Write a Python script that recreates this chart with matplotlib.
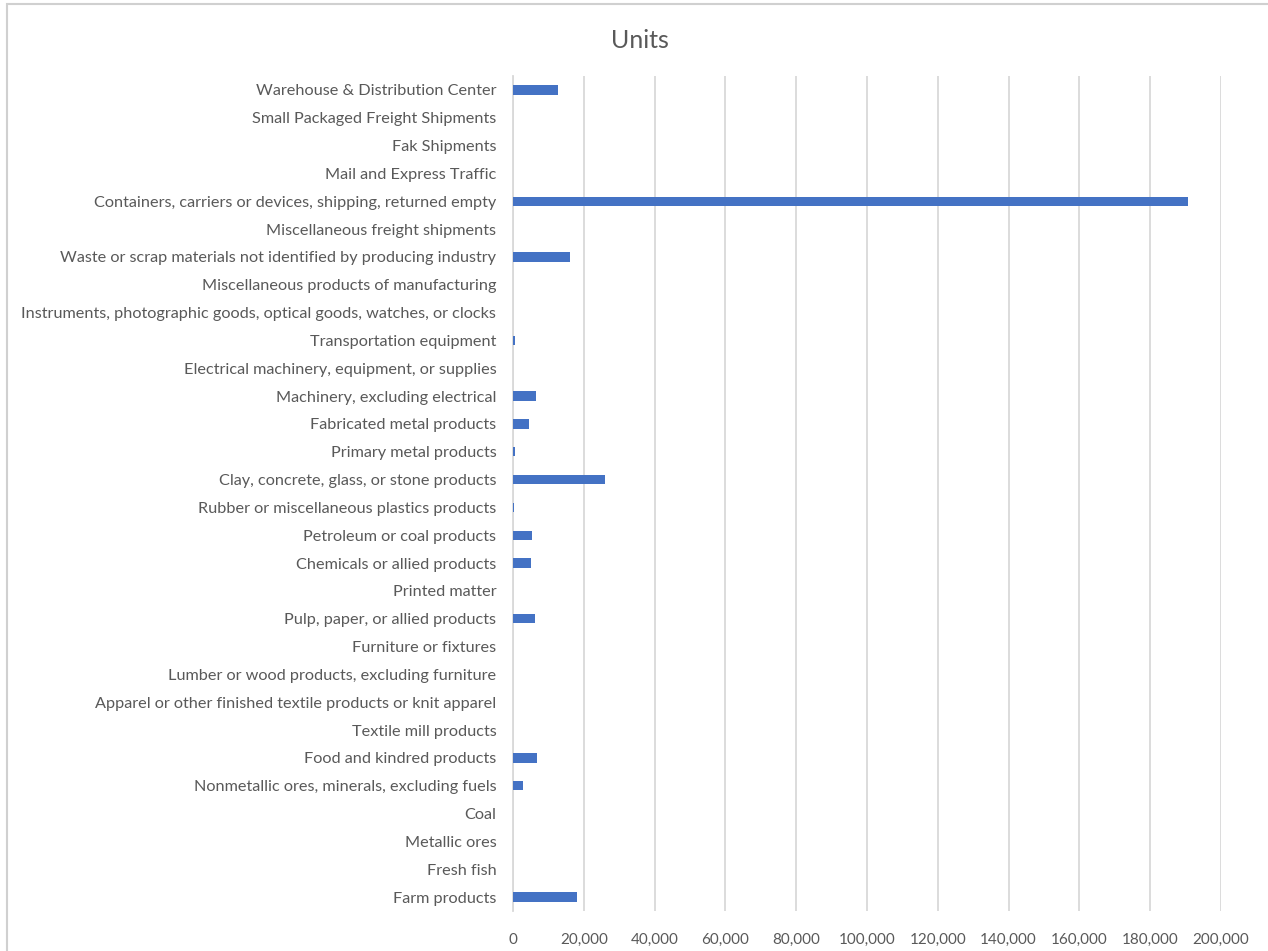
import matplotlib.pyplot as plt
from matplotlib.patches import Rectangle
from matplotlib.ticker import FuncFormatter

categories = [
    "Farm products",
    "Fresh fish",
    "Metallic ores",
    "Coal",
    "Nonmetallic ores, minerals, excluding fuels",
    "Food and kindred products",
    "Textile mill products",
    "Apparel or other finished textile products or knit apparel",
    "Lumber or wood products, excluding furniture",
    "Furniture or fixtures",
    "Pulp, paper, or allied products",
    "Printed matter",
    "Chemicals or allied products",
    "Petroleum or coal products",
    "Rubber or miscellaneous plastics products",
    "Clay, concrete, glass, or stone products",
    "Primary metal products",
    "Fabricated metal products",
    "Machinery, excluding electrical",
    "Electrical machinery, equipment, or supplies",
    "Transportation equipment",
    "Instruments, photographic goods, optical goods, watches, or clocks",
    "Miscellaneous products of manufacturing",
    "Waste or scrap materials not identified by producing industry",
    "Miscellaneous freight shipments",
    "Containers, carriers or devices, shipping, returned empty",
    "Mail and Express Traffic",
    "Fak Shipments",
    "Small Packaged Freight Shipments",
    "Warehouse & Distribution Center",
]
units = [
    18000, 0, 0, 0, 2800, 6900, 0, 0, 0, 0,
    6100, 0, 5200, 5400, 300, 25900, 700, 4500, 6400, 0,
    500, 0, 0, 16200, 0, 190600, 0, 0, 0, 12800,
]

W, H = 1268, 951
fig = plt.figure(figsize=(W / 100, H / 100), dpi=100)
plt.rcParams["font.family"] = ["Lato", "DejaVu Sans"]
txt = "#595959"

# outer chart frame (Excel style)
fig.patches.append(Rectangle((7 / W, -0.1), 1.2, 1 - 4 / H + 0.1, transform=fig.transFigure,
                             fill=False, edgecolor="#D0D0D0", linewidth=1.5))

ax = fig.add_axes([513 / W, 1 - 911 / H, (1221 - 513) / W, (911 - 76) / H])
ax.barh(range(len(categories)), units, height=0.34, color="#4472C4", zorder=3)

ax.set_xlim(0, 200000)
ax.set_ylim(-0.5, len(categories) - 0.5)
ax.set_xticks(range(0, 200001, 20000))
ax.xaxis.set_major_formatter(FuncFormatter(lambda v, p: f"{int(v):,}"))
ax.set_yticks(range(len(categories)))
ax.set_yticklabels(categories)

ax.grid(axis="x", color="#D9D9D9", linewidth=1.3, zorder=0)
for s in ["top", "right", "bottom"]:
    ax.spines[s].set_visible(False)
ax.spines["left"].set_color("#D9D9D9")
ax.spines["left"].set_linewidth(1.3)
ax.tick_params(axis="both", length=0, colors=txt)
ax.tick_params(axis="y", pad=12, labelsize=11.7)
ax.tick_params(axis="x", pad=16, labelsize=11)

fig.text(640 / W, 1 - 40 / H, "Units", ha="center", va="center", fontsize=18, color=txt)

fig.savefig("out.png", dpi=100)
